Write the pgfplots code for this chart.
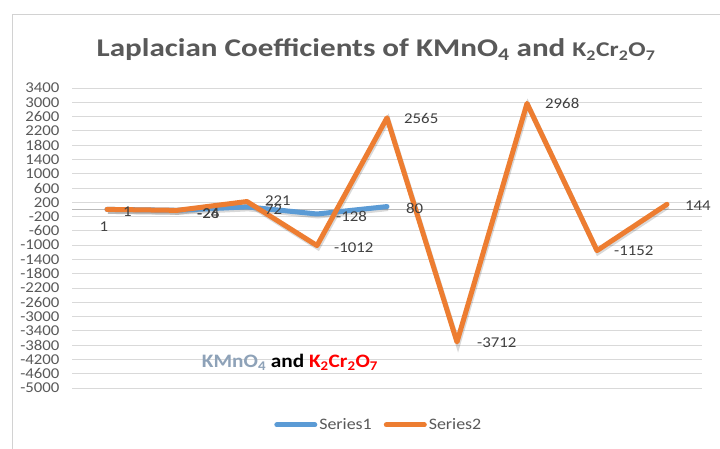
\documentclass[border=0pt]{standalone}
\usepackage{fontspec}
\setmainfont{Carlito}[FakeStretch=1.12]
\usepackage{pgfplots}
\pgfplotsset{compat=1.18}
\definecolor{sblue}{HTML}{5B9BD5}
\definecolor{sorange}{HTML}{ED7D31}
\definecolor{txt}{HTML}{595959}
\definecolor{lbl}{HTML}{404040}
\definecolor{grd}{HTML}{D9D9D9}
\definecolor{kmno}{HTML}{8EA2B8}
\begin{document}
\begin{tikzpicture}
\path[use as bounding box] (0,0) rectangle (720bp,449bp);
\fill[white] (0,0) rectangle (720bp,449bp);
\draw[gray!35, line width=1bp] (12bp,-2bp) -- (12bp,434bp) -- (722bp,434bp);
\node[font=\fontsize{25.5bp}{28bp}\selectfont\bfseries, text=txt, transform shape, xscale=1.09] at (376bp,399bp)
  {Laplacian Coefficients of KMnO\textsubscript{4} and {\fontsize{21bp}{24bp}\selectfont K\textsubscript{2}Cr\textsubscript{2}O\textsubscript{7}}};
\begin{axis}[
  at={(72bp,61bp)}, anchor=south west,
  scale only axis, width=630bp, height=300bp,
  xmin=0.5, xmax=9.5, ymin=-5000, ymax=3400,
  xtick={1,...,9}, xticklabels={},
  ytick={-5000,-4600,...,3400},
  extra y ticks={0}, extra y tick labels={},
  extra y tick style={grid style={color=gray!55, line width=1bp}},
  ymajorgrids, grid style={color=grd, line width=1bp},
  axis line style={draw=none}, tick style={draw=none},
  yticklabel style={font=\fontsize{15bp}{15bp}\selectfont, text=txt, xshift=-9bp},
  /pgf/number format/assume math mode=true,
  /pgf/number format/1000 sep={},
  clip=false,
  legend columns=2,
  legend style={at={(0.487,-0.123)}, anchor=center, draw=none, fill=none,
    font=\fontsize{16bp}{16bp}\selectfont, text=txt, inner xsep=0pt,
    /tikz/every even column/.append style={column sep=10bp}},
  legend image code/.code={\draw[#1, line width=5bp, line cap=round] (0bp,0bp) -- (38bp,0bp);},
]
% shadows
\addplot[forget plot, black, opacity=0.15, line width=5bp, xshift=1bp, yshift=-2bp] coordinates {(1,1) (2,-24) (3,72) (4,-128) (5,80)};
\addplot[forget plot, black, opacity=0.15, line width=5bp, xshift=1bp, yshift=-2bp] coordinates {(1,1) (2,-26) (3,221) (4,-1012) (5,2565) (6,-3712) (7,2968) (8,-1152) (9,144)};
\addplot[sblue, line width=5bp, line cap=round, line join=round] coordinates {(1,1) (2,-24) (3,72) (4,-128) (5,80)};
\addlegendentry{Series1}
\addplot[sorange, line width=5bp, line cap=round, line join=round] coordinates {(1,1) (2,-26) (3,221) (4,-1012) (5,2565) (6,-3712) (7,2968) (8,-1152) (9,144)};
\addlegendentry{Series2}
\begin{scope}[every node/.style={font=\fontsize{15bp}{15bp}\selectfont, text=lbl, inner sep=0pt}]
\node[anchor=north] at ([xshift=-3bp,yshift=-12bp]axis cs:1,1) {1};
\node[anchor=west] at ([xshift=16bp,yshift=-2bp]axis cs:1,1) {1};
\node[anchor=west] at ([xshift=20bp,yshift=-3bp]axis cs:2,-24) {-24};
\node[anchor=west] at ([xshift=20bp,yshift=-3bp]axis cs:2,-26) {-26};
\node[anchor=west] at ([xshift=18bp,yshift=1bp]axis cs:3,221) {221};
\node[anchor=west] at ([xshift=18bp,yshift=-3bp]axis cs:3,72) {72};
\node[anchor=west] at ([xshift=19bp,yshift=-2bp]axis cs:4,-128) {-128};
\node[anchor=west] at ([xshift=17bp,yshift=-2bp]axis cs:4,-1012) {-1012};
\node[anchor=west] at ([xshift=19bp,yshift=-2bp]axis cs:5,80) {80};
\node[anchor=west] at ([xshift=17bp,yshift=-1bp]axis cs:5,2565) {2565};
\node[anchor=west] at ([xshift=20bp,yshift=-1bp]axis cs:6,-3712) {-3712};
\node[anchor=west] at ([xshift=18bp,yshift=0bp]axis cs:7,2968) {2968};
\node[anchor=west] at ([xshift=17bp,yshift=0bp]axis cs:8,-1152) {-1152};
\node[anchor=west] at ([xshift=18bp,yshift=-1bp]axis cs:9,144) {144};
\end{scope}
\end{axis}
\node[font=\fontsize{19bp}{22bp}\selectfont\bfseries, inner sep=0pt] at (290bp,87bp)
  {\textcolor{kmno}{KMnO\textsubscript{4}} and \textcolor{red}{K\textsubscript{2}Cr\textsubscript{2}O\textsubscript{7}}};
\end{tikzpicture}
\end{document}
